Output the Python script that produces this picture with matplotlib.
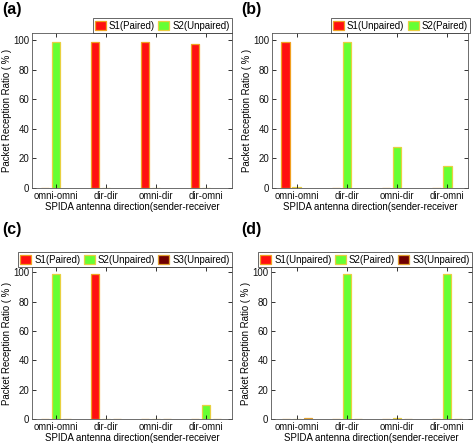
import matplotlib
matplotlib.use("Agg")
import matplotlib.pyplot as plt
import numpy as np

plt.rcParams['font.family'] = ['Liberation Sans', 'DejaVu Sans']

categories = ["omni-omni", "dir-dir", "omni-dir", "dir-omni"]
yticks = [0, 20, 40, 60, 80, 100]

# panel (a)
a_labels = ["S1(Paired)", "S2(Unpaired)"]
a_s1 = [0.3, 99, 99, 97.3]
a_s2 = [98.7, 0.3, 0.3, 0.3]
# panel (b)
b_labels = ["S1(Unpaired)", "S2(Paired)"]
b_s1 = [99, 0.3, 0.3, 0.3]
b_s2 = [0.5, 99, 27.7, 15]
# panel (c)
c_labels = ["S1(Paired)", "S2(Unpaired)", "S3(Unpaired)"]
c_s1 = [0.3, 99, 0.3, 0.3]
c_s2 = [98.4, 0.3, 0.3, 9.3]
c_s3 = [0.3, 0.3, 0.3, 0.3]
# panel (d)
d_labels = ["S1(Unpaired)", "S2(Paired)", "S3(Unpaired)"]
d_s1 = [0.3, 0, 0, 0]
d_s2 = [0.3, 98.5, 0.8, 98.5]
d_s3 = [1.0, 0.3, 0.3, 0.3]

colors = ["#ff1010", "#66ff33", "#700000"]
edges = ["#f0a020", "#e8d040", "#e0a030"]

W, H = 475, 445
fig = plt.figure(figsize=(W / 100, H / 100), dpi=100)

def px_axes(l, t, r, b):
    return fig.add_axes([l / W, 1 - b / H, (r - l) / W, (b - t) / H])

panels = [
    ("(a)", (32, 33, 232, 188), (0.52, 4.52), 105, [a_s1, a_s2], a_labels, (2, 2), (232, 20)),
    ("(b)", (272, 33, 468, 188), (0.51, 4.41), 105, [b_s1, b_s2], b_labels, (241, 2), (470, 20)),
    ("(c)", (32, 267, 232, 419), (0.52, 4.52), 103.5, [c_s1, c_s2, c_s3], c_labels, (2, 222), (232, 249)),
    ("(d)", (271, 267, 472, 419), (0.48, 4.5), 103.5, [d_s1, d_s2, d_s3], d_labels, (241, 222), (472, 249)),
]

fs = 6.9
for tag, box, xl, ytop, series, labels, tagpos, legpos in panels:
    ax = px_axes(*box)
    x = np.arange(1, len(categories) + 1)
    offsets = [-0.22, 0.0, 0.22]
    handles = []
    for i, vals in enumerate(series):
        h = ax.bar(x + offsets[i], vals, width=0.17, color=colors[i],
                   edgecolor=edges[i], linewidth=0.9, label=labels[i])
        handles.append(h)
    ax.set_xlim(*xl)
    ax.set_ylim(0, ytop)
    ax.set_xticks(x)
    ax.set_xticklabels(categories, fontsize=fs)
    ax.set_yticks(yticks)
    ax.set_yticklabels([str(v) for v in yticks], fontsize=fs)
    ax.tick_params(direction='in', top=True, right=True, length=3, width=0.6,
                   pad=2, colors='#111111')
    for s in ax.spines.values():
        s.set_linewidth(0.6)
        s.set_color('#555555')
    ax.set_xlabel("SPIDA antenna direction(sender-receiver", fontsize=fs, labelpad=1)
    ax.set_ylabel("Packet Reception Ratio ( % )", fontsize=fs, labelpad=1)
    lx = legpos[0] / W
    ly = 1 - box[1] / H
    leg = fig.legend(handles=handles, labels=labels, loc='lower right',
                     bbox_to_anchor=(lx, ly), ncol=len(labels), fontsize=fs,
                     frameon=True, fancybox=False, borderpad=0.25,
                     handlelength=1.15, handleheight=1.1, handletextpad=0.3,
                     columnspacing=0.35, borderaxespad=0)
    leg.get_frame().set_edgecolor('#222222')
    leg.get_frame().set_linewidth(0.6)
    fig.text(tagpos[0] / W, 1 - tagpos[1] / H, tag, fontsize=11.5, fontweight='bold',
             va='top', ha='left')

fig.savefig("out.png", dpi=100)
